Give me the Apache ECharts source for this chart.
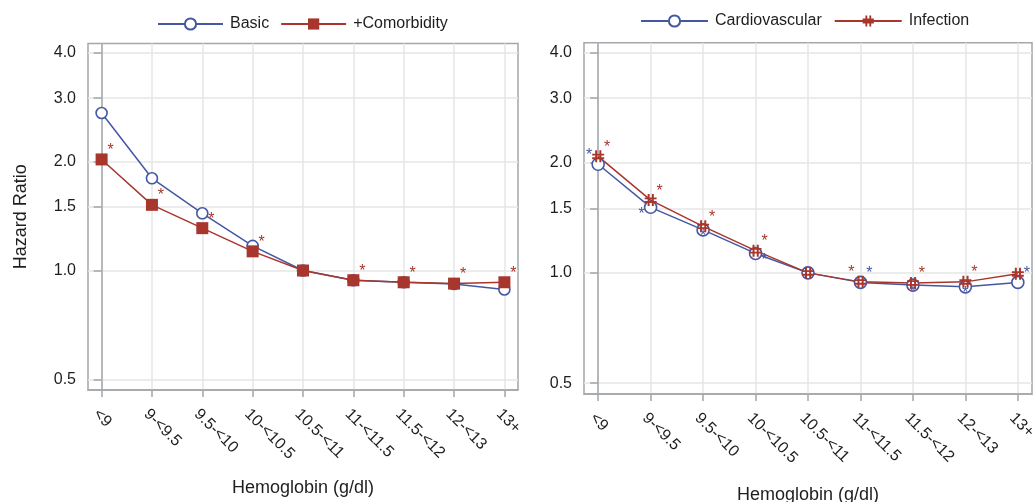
<!DOCTYPE html>
<html>
<head>
<meta charset="utf-8">
<script src="https://cdn.jsdelivr.net/npm/echarts@6/dist/echarts.min.js"></script>
<style>
  html, body { margin: 0; padding: 0; background: #ffffff; }
  #chart { width: 1036px; height: 502px; }
</style>
</head>
<body>
<div id="chart"></div>
<script>
// Hemoglobin categories (g/dl) shared by both panels
const categories = ['<9', '9-<9.5', '9.5-<10', '10-<10.5', '10.5-<11', '11-<11.5', '11.5-<12', '12-<13', '13+'];
// Hazard-ratio tick values on the log axis
const yTicks = [0.5, 1.0, 1.5, 2.0, 3.0, 4.0];

// Left panel: all-cause models
const hrBasic        = [2.73, 1.80, 1.44, 1.17, 1.00, 0.940, 0.928, 0.918, 0.886];
const hrComorbidity  = [2.03, 1.52, 1.31, 1.13, 1.00, 0.940, 0.928, 0.920, 0.928];
const sigComorbidity = [1, 1, 1, 1, 0, 1, 1, 1, 1];

// Right panel: cause-specific models
const hrCardio      = [1.98, 1.51, 1.31, 1.13, 1.00, 0.942, 0.926, 0.916, 0.942];
const hrInfection   = [2.08, 1.58, 1.34, 1.15, 1.00, 0.945, 0.939, 0.945, 0.994];
const sigCardio     = [1, 1, 1, 1, 0, 1, 1, 1, 1];
const sigInfection  = [1, 1, 1, 1, 0, 1, 1, 1, 0];

// ---- styling / layout ----
const BLUE = '#4457a3';
const RED = '#a8362c';
const FRAME = '#a3a7ab';
const GRIDLINE = '#e6e6e6';
const TEXT = '#1e1e1e';
const FONT = '"Liberation Sans", Arial, Helvetica, sans-serif';
const tickIdx = categories.map((_, i) => i);

// '#'-shaped marker for the infection series
const hashSymbol = 'path://M3,0h2v12h-2z M7.2,0h2v12h-2z M0,3.4h12v1.8h-12z M0,7h12v1.8h-12z';

// where the significance star sits relative to its point
const starOffset = { ur: [9, -9], ul: [-9, -9], l: [-9, 7], r: [9, 7], c: [0, 7] };
const placeComorbidity = ['ur', 'ur', 'ur', 'ur', null, 'ur', 'ur', 'ur', 'ur'];
const placeCardio      = ['ul', 'l', 'c', 'r', null, 'ur', 'c', 'c', 'ur'];
const placeInfection   = ['ur', 'ur', 'ur', 'ur', null, 'ul', 'ur', 'ur', 'ur'];

function makeX(gridIndex, nameGap) {
  return {
    type: 'value', gridIndex, min: -0.27, max: 8.27,
    axisLine: { show: true, onZero: false, lineStyle: { color: FRAME, width: 1.5 } },
    axisTick: { show: true, customValues: tickIdx, length: 7, lineStyle: { color: FRAME, width: 1.5 } },
    axisLabel: {
      customValues: tickIdx, formatter: v => categories[Math.round(v)],
      rotate: -45, margin: 16, verticalAlign: 'top',
      fontSize: 16, color: TEXT, fontFamily: FONT
    },
    splitLine: { show: true, lineStyle: { color: GRIDLINE, width: 1.5 } },
    name: 'Hemoglobin (g/dl)', nameLocation: 'middle', nameGap,
    nameMoveOverlap: false,
    nameTextStyle: { fontSize: 18, color: TEXT, fontFamily: FONT }
  };
}

function makeY(gridIndex, withName) {
  const ax = {
    type: 'log', logBase: 2, gridIndex, min: 0.467, max: 4.25,
    axisLine: { show: true, lineStyle: { color: FRAME, width: 1.5 } },
    axisTick: { show: true, customValues: yTicks, length: 8, lineStyle: { color: FRAME, width: 1.5 } },
    axisLabel: {
      customValues: yTicks, formatter: v => Number(v).toFixed(1),
      margin: 12, fontSize: 16, color: TEXT, fontFamily: FONT
    },
    splitLine: { show: true, lineStyle: { color: GRIDLINE, width: 1.5 } }
  };
  if (withName) {
    ax.name = 'Hazard Ratio';
    ax.nameLocation = 'middle';
    ax.nameGap = 58;
    ax.nameMoveOverlap = false;
    ax.nameTextStyle = { fontSize: 18, color: TEXT, fontFamily: FONT };
  }
  return ax;
}

function makeSeries(name, values, sig, place, color, symbol, symbolSize, filled, axisIndex) {
  return {
    type: 'line', name,
    xAxisIndex: axisIndex, yAxisIndex: axisIndex,
    symbol, symbolSize,
    showAllSymbol: true,
    lineStyle: { color, width: 1.5 },
    itemStyle: filled
      ? { color, borderColor: color, borderWidth: 0 }
      : { color: '#ffffff', borderColor: color, borderWidth: 1.6 },
    label: {
      show: false, formatter: '*', position: 'inside',
      color, fontSize: 16, fontFamily: FONT
    },
    emphasis: { disabled: true },
    data: values.map((v, i) => ({
      value: [i, v],
      label: (sig && sig[i] && place[i])
        ? { show: true, offset: starOffset[place[i]] }
        : { show: false }
    }))
  };
}

const legendText = { fontSize: 16, color: TEXT, fontFamily: FONT, padding: [0, 0, 0, 2] };

const option = {
  animation: false,
  backgroundColor: '#ffffff',
  grid: [
    { left: 88, top: 43.5, width: 430, height: 346.5, outerBoundsMode: 'none', containLabel: false,
      show: true, borderColor: FRAME, borderWidth: 1.5, backgroundColor: 'transparent' },
    { left: 584, top: 42.7, width: 448, height: 351.3, outerBoundsMode: 'none', containLabel: false,
      show: true, borderColor: FRAME, borderWidth: 1.5, backgroundColor: 'transparent' }
  ],
  legend: [
    { data: ['Basic', '+Comorbidity'], left: 152, top: 11, itemWidth: 65, itemHeight: 14, itemGap: 11, textStyle: legendText, selectedMode: false },
    { data: ['Cardiovascular', 'Infection'], left: 635, top: 8, itemWidth: 67, itemHeight: 14, itemGap: 12, textStyle: legendText, selectedMode: false }
  ],
  xAxis: [makeX(0, 89), makeX(1, 92)],
  yAxis: [makeY(0, true), makeY(1, false)],
  series: [
    makeSeries('Basic', hrBasic, null, null, BLUE, 'circle', 11, false, 0),
    makeSeries('+Comorbidity', hrComorbidity, sigComorbidity, placeComorbidity, RED, 'rect', 12, true, 0),
    makeSeries('Cardiovascular', hrCardio, sigCardio, placeCardio, BLUE, 'circle', 12, false, 1),
    makeSeries('Infection', hrInfection, sigInfection, placeInfection, RED, hashSymbol, 12, true, 1)
  ]
};

const chart = echarts.init(document.getElementById('chart'), null, { renderer: 'canvas' });
chart.setOption(option);
</script>
</body>
</html>
